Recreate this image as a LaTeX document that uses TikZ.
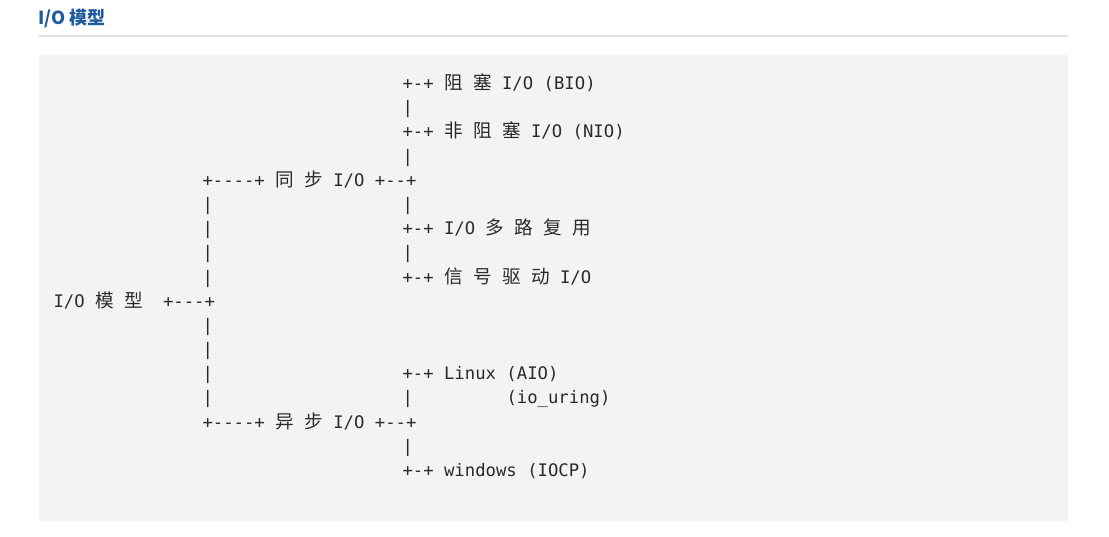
\documentclass[tikz,border=0pt]{standalone}
\usepackage{fontspec}
\setmonofont{DejaVu Sans Mono}
\newfontfamily\cjkfont{Noto Sans CJK SC}
\newcommand\zh[1]{{\fontsize{18.6}{24}\cjkfont #1}}
\newcommand\monof{\fontsize{17.27}{24}\ttfamily}
\definecolor{boxgray}{HTML}{F3F3F3}
\definecolor{rulegray}{HTML}{E0E0E0}
\definecolor{titleblue}{HTML}{1D5B9E}
\definecolor{txtc}{HTML}{2A2A2A}
\begin{document}
\begin{tikzpicture}[x=1pt,y=-1pt,
  ascii/.style={anchor=base west, inner sep=0pt, outer sep=0pt, font=\monof, text=txtc}]
\useasboundingbox (0,0) rectangle (1109,536);
\fill[white] (0,0) rectangle (1109,536);
% title and rule
\node[anchor=base west, inner sep=0pt, text=titleblue,
      font=\fontsize{18}{22}\cjkfont\bfseries] (title) at (38,24) {I/O 模型};
\coordinate (rl) at (39,36);
\coordinate (rr) at (1068,36);
\draw[rulegray, line width=1.5pt] (rl) -- (rr);
% code block background
\fill[boxgray] (39,55) rectangle (1068,521);
% ASCII tree
\def\L{202.5}
\def\R{402.5}
\node[ascii] (b0)   at (\R, 89.5)   {+-+ \zh{阻} \zh{塞} I/O (BIO)};
\node[ascii] (v1)   at (\R, 113.69) {|};
\node[ascii] (b2)   at (\R, 137.88) {+-+ \zh{非} \zh{阻} \zh{塞} I/O (NIO)};
\node[ascii] (v3)   at (\R, 162.07) {|};
\node[ascii] (s4)   at (\L, 186.26) {+----+ \zh{同} \zh{步} I/O +--+};
\node[ascii] (v5a)  at (\L, 210.45) {|};
\node[ascii] (v5b)  at (\R, 210.45) {|};
\node[ascii] (v6a)  at (\L, 234.64) {|};
\node[ascii] (b6)   at (\R, 234.64) {+-+ I/O \zh{多} \zh{路} \zh{复} \zh{用}};
\node[ascii] (v7a)  at (\L, 258.83) {|};
\node[ascii] (v7b)  at (\R, 258.83) {|};
\node[ascii] (v8a)  at (\L, 283.02) {|};
\node[ascii] (b8)   at (\R, 283.02) {+-+ \zh{信} \zh{号} \zh{驱} \zh{动} I/O};
\node[ascii] (root) at (53.5, 307.21) {I/O \zh{模} \zh{型}};
\node[ascii] (j9)   at (163, 307.21) {+---+};
\node[ascii] (v10a) at (\L, 331.4)  {|};
\node[ascii] (v11a) at (\L, 355.59) {|};
\node[ascii] (v12a) at (\L, 379.78) {|};
\node[ascii] (b12)  at (\R, 379.78) {+-+ Linux (AIO)};
\node[ascii] (v13a) at (\L, 403.97) {|};
\node[ascii] (v13b) at (\R, 403.97) {|};
\node[ascii] (n13)  at (506.5, 403.97) {(io\_uring)};
\node[ascii] (a14)  at (\L, 428.16) {+----+ \zh{异} \zh{步} I/O +--+};
\node[ascii] (v15b) at (\R, 452.35) {|};
\node[ascii] (b16)  at (\R, 476.54) {+-+ windows (IOCP)};
\end{tikzpicture}
\end{document}
